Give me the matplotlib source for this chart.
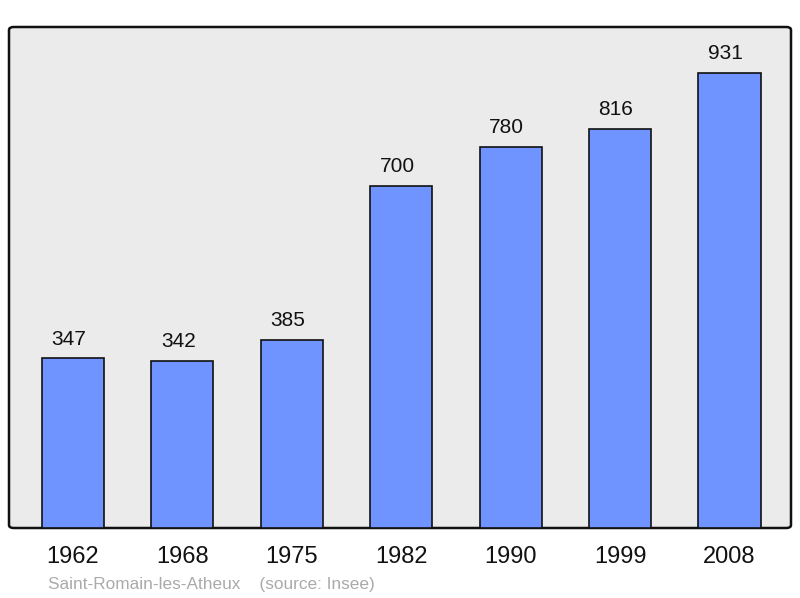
import matplotlib.pyplot as plt
from matplotlib.patches import FancyBboxPatch

years = ["1962", "1968", "1975", "1982", "1990", "1999", "2008"]
population = [347, 342, 385, 700, 780, 816, 931]

plt.rcParams["font.family"] = ["Liberation Sans", "DejaVu Sans"]

fig = plt.figure(figsize=(8, 5.98), dpi=100)
ax = fig.add_axes([9 / 800, 70 / 598, 782 / 800, 501 / 598])

# cadre arrondi gris clair
frame = FancyBboxPatch((0, 0), 1, 1, boxstyle="round,pad=0,rounding_size=0.006",
                       transform=ax.transAxes, facecolor="#ebebeb",
                       edgecolor="#111111", linewidth=1.8, zorder=0,
                       clip_on=False)
ax.add_patch(frame)
ax.patch.set_visible(False)
for s in ax.spines.values():
    s.set_visible(False)

x = range(len(years))
ax.bar(x, population, width=0.567, color="#7094ff", edgecolor="#111111",
       linewidth=1.2, zorder=2)

for xi, v in zip(x, population):
    ax.annotate(str(v), (xi, v), xytext=(-3, 10), textcoords="offset points",
                ha="center", va="baseline", fontsize=15, color="#111111")

ax.set_xlim(-0.585, 6.562)
ax.set_ylim(0, 1025)
ax.set_xticks(list(x))
ax.set_xticklabels(years, fontsize=17, color="#111111")
ax.tick_params(axis="x", length=0, pad=13)
ax.set_yticks([])

fig.text(48 / 800, 1 - 584 / 598, "Saint-Romain-les-Atheux    (source: Insee)",
         fontsize=12.4, color="#aaaaaa", ha="left", va="center")

fig.savefig("out.png")
